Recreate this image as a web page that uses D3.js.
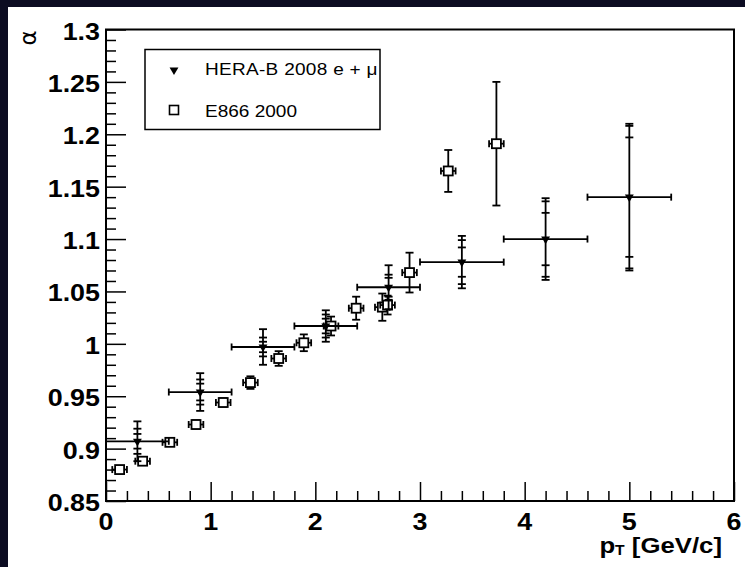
<!DOCTYPE html>
<html>
<head>
<meta charset="utf-8">
<script src="https://cdn.jsdelivr.net/npm/d3@7"></script>
<style>
  html, body { margin: 0; padding: 0; background: #0c0c22; }
  svg { display: block; }
</style>
</head>
<body>
<svg id="chart" width="745" height="567"></svg>
<script>
// HERA-B 2008 (e + mu): bin centres, bin edges, alpha and three error levels
const heraX    = [0.3, 0.9, 1.5, 2.1, 2.7, 3.4, 4.2, 5.0];
const heraXLo  = [0.0, 0.6, 1.2, 1.8, 2.4, 3.0, 3.8, 4.6];
const heraXHi  = [0.6, 1.2, 1.8, 2.4, 3.0, 3.8, 4.6, 5.4];
const heraY    = [0.907, 0.954, 0.997, 1.017, 1.054, 1.078, 1.100, 1.140];
const heraErrA = [0.007, 0.008, 0.005, 0.007, 0.009, 0.014, 0.025, 0.057];
const heraErrB = [0.012, 0.012, 0.009, 0.011, 0.012, 0.021, 0.036, 0.068];
const heraErrC = [0.019, 0.018, 0.017, 0.015, 0.021, 0.025, 0.039, 0.070];

// E866 2000
const e866X  = [0.13, 0.35, 0.61, 0.86, 1.12, 1.38, 1.65, 1.89, 2.15, 2.39, 2.64, 2.69, 2.90, 3.27, 3.73];
const e866Y  = [0.880, 0.888, 0.906, 0.923, 0.944, 0.963, 0.986, 1.001, 1.017, 1.034, 1.035, 1.037, 1.068, 1.165, 1.191];
const e866Ey = [0.003, 0.003, 0.003, 0.004, 0.004, 0.006, 0.007, 0.008, 0.009, 0.011, 0.013, 0.009, 0.019, 0.020, 0.059];
const e866Ex = [0.07, 0.07, 0.07, 0.07, 0.07, 0.07, 0.07, 0.07, 0.07, 0.07, 0.07, 0.07, 0.07, 0.07, 0.07];

// Axis ticks and labels
const xMajor = [0, 1, 2, 3, 4, 5, 6];
const xLabels = ["0", "1", "2", "3", "4", "5", "6"];
const yMajor = [0.85, 0.9, 0.95, 1.0, 1.05, 1.1, 1.15, 1.2, 1.25, 1.3];
const yLabels = ["0.85", "0.9", "0.95", "1", "1.05", "1.1", "1.15", "1.2", "1.25", "1.3"];

const legendLabels = ["HERA-B 2008 e + \u03bc", "E866 2000"];

const W = 745, H = 567;
const svg = d3.select("#chart");
const FONT = "'Liberation Sans', Arial, Helvetica, sans-serif";
const SX = 1.12; // horizontal stretch of the lettering

svg.append("rect").attr("width", W).attr("height", H).attr("fill", "#0c0c22");
svg.append("rect").attr("x", 8).attr("y", 7).attr("width", W - 8).attr("height", H - 7).attr("fill", "#ffffff");

const m = { left: 106, right: 734, top: 29.5, bottom: 501 };
const x = d3.scaleLinear().domain([0, 6]).range([m.left, m.right]);
const y = d3.scaleLinear().domain([0.85, 1.3]).range([m.bottom, m.top]);

// minor tick values
const xMinor = d3.range(0, 30).map(i => i * 0.2).filter((v, i) => i % 5 !== 0);
const yMinor = d3.range(0, 45).map(i => 0.85 + i * 0.01).filter((v, i) => i % 5 !== 0);

function styleAxis(g) {
  g.select(".domain").remove();
  g.selectAll(".tick line").attr("stroke", "#000").attr("stroke-width", 1.5);
}

svg.append("g").attr("transform", `translate(0,${m.bottom})`)
  .call(d3.axisBottom(x).tickValues(xMajor).tickSize(-19).tickFormat("")).call(styleAxis);
svg.append("g").attr("transform", `translate(0,${m.bottom})`)
  .call(d3.axisBottom(x).tickValues(xMinor).tickSize(-10).tickFormat("")).call(styleAxis);
svg.append("g").attr("transform", `translate(${m.left},0)`)
  .call(d3.axisLeft(y).tickValues(yMajor).tickSize(-20).tickFormat("")).call(styleAxis);
svg.append("g").attr("transform", `translate(${m.left},0)`)
  .call(d3.axisLeft(y).tickValues(yMinor).tickSize(-10).tickFormat("")).call(styleAxis);

// frame
svg.append("rect")
  .attr("x", m.left).attr("y", m.top)
  .attr("width", m.right - m.left).attr("height", m.bottom - m.top)
  .attr("fill", "none").attr("stroke", "#000").attr("stroke-width", 2);

function label(px, py, txt, size, weight, anchor, sx) {
  const g = svg.append("g").attr("transform", `translate(${px},${py}) scale(${sx},1)`);
  return g.append("text")
    .attr("text-anchor", anchor)
    .attr("font-family", FONT).attr("font-size", size).attr("font-weight", weight)
    .attr("fill", "#000").text(txt);
}

// tick labels
yMajor.forEach((v, i) => label(100, y(v) + 10, yLabels[i], 24, "bold", "end", SX));
xMajor.forEach((v, i) => label(x(v), 530, xLabels[i], 24, "bold", "middle", SX));

// axis titles
const xt = svg.append("g").attr("transform", `translate(722,553) scale(${SX},1)`)
  .append("text").attr("text-anchor", "end")
  .attr("font-family", FONT).attr("font-size", 23).attr("font-weight", "bold").attr("fill", "#000");
xt.append("tspan").text("p");
xt.append("tspan").attr("font-size", 14).attr("dy", 2).text("T");
xt.append("tspan").attr("dy", -2).text(" [GeV/c]");

svg.append("g").attr("transform", "translate(36,38) rotate(-90)")
  .append("text").attr("text-anchor", "middle")
  .attr("font-family", "'DejaVu Sans', sans-serif").attr("font-size", 23)
  .attr("fill", "#000").text("\u03b1");

const plot = svg.append("g").attr("stroke", "#000").attr("stroke-width", 1.8).attr("fill", "none");
const CAP = 3.5;

function hLine(g, x0, x1, yy) {
  g.append("line").attr("x1", x0).attr("x2", x1).attr("y1", yy).attr("y2", yy);
}
function vLine(g, xx, y0, y1) {
  g.append("line").attr("x1", xx).attr("x2", xx).attr("y1", y0).attr("y2", y1);
}

// E866 points: error bars then open squares
e866X.forEach((xv, i) => {
  const g = plot.append("g");
  const cx = x(xv), cy = y(e866Y[i]);
  const xl = x(xv - e866Ex[i]), xr = x(xv + e866Ex[i]);
  const yt = y(e866Y[i] + e866Ey[i]), yb = y(e866Y[i] - e866Ey[i]);
  hLine(g, xl, xr, cy);
  vLine(g, xl, cy - CAP, cy + CAP);
  vLine(g, xr, cy - CAP, cy + CAP);
  vLine(g, cx, yt, yb);
  hLine(g, cx - CAP - 0.5, cx + CAP + 0.5, yt);
  hLine(g, cx - CAP - 0.5, cx + CAP + 0.5, yb);
  g.append("rect").attr("x", cx - 4.5).attr("y", cy - 4.5).attr("width", 9).attr("height", 9)
    .attr("fill", "#fff").attr("stroke", "#000").attr("stroke-width", 1.8);
});

// HERA-B points: bin width, layered vertical errors, filled down-triangles
const tri = d3.symbol().type(d3.symbolTriangle).size(34);
heraX.forEach((xv, i) => {
  const g = plot.append("g");
  const cx = x(xv), cy = y(heraY[i]);
  const xl = x(heraXLo[i]), xr = x(heraXHi[i]);
  hLine(g, xl, xr, cy);
  if (heraXLo[i] > 0) vLine(g, xl, cy - CAP, cy + CAP);
  vLine(g, xr, cy - CAP, cy + CAP);
  vLine(g, cx, y(heraY[i] + heraErrC[i]), y(heraY[i] - heraErrC[i]));
  [heraErrA[i], heraErrB[i], heraErrC[i]].forEach(e => {
    hLine(g, cx - CAP - 0.5, cx + CAP + 0.5, y(heraY[i] + e));
    hLine(g, cx - CAP - 0.5, cx + CAP + 0.5, y(heraY[i] - e));
  });
  g.append("path").attr("d", tri).attr("transform", `translate(${cx},${cy}) rotate(180)`)
    .attr("fill", "#000").attr("stroke", "none");
});

// legend
const lg = svg.append("g");
lg.append("rect").attr("x", 145).attr("y", 49.5).attr("width", 235).attr("height", 80)
  .attr("fill", "#fff").attr("stroke", "#000").attr("stroke-width", 1.5);
lg.append("path").attr("d", tri).attr("transform", "translate(174,70) rotate(180)").attr("fill", "#000");
lg.append("rect").attr("x", 169.5).attr("y", 105.5).attr("width", 9).attr("height", 9)
  .attr("fill", "#fff").attr("stroke", "#000").attr("stroke-width", 1.6);
label(205, 75, legendLabels[0], 17, "normal", "start", 1.12)
  .attr("textLength", 154).attr("lengthAdjust", "spacing");
label(205, 117, legendLabels[1], 17, "normal", "start", 1.12);
</script>
</body>
</html>
